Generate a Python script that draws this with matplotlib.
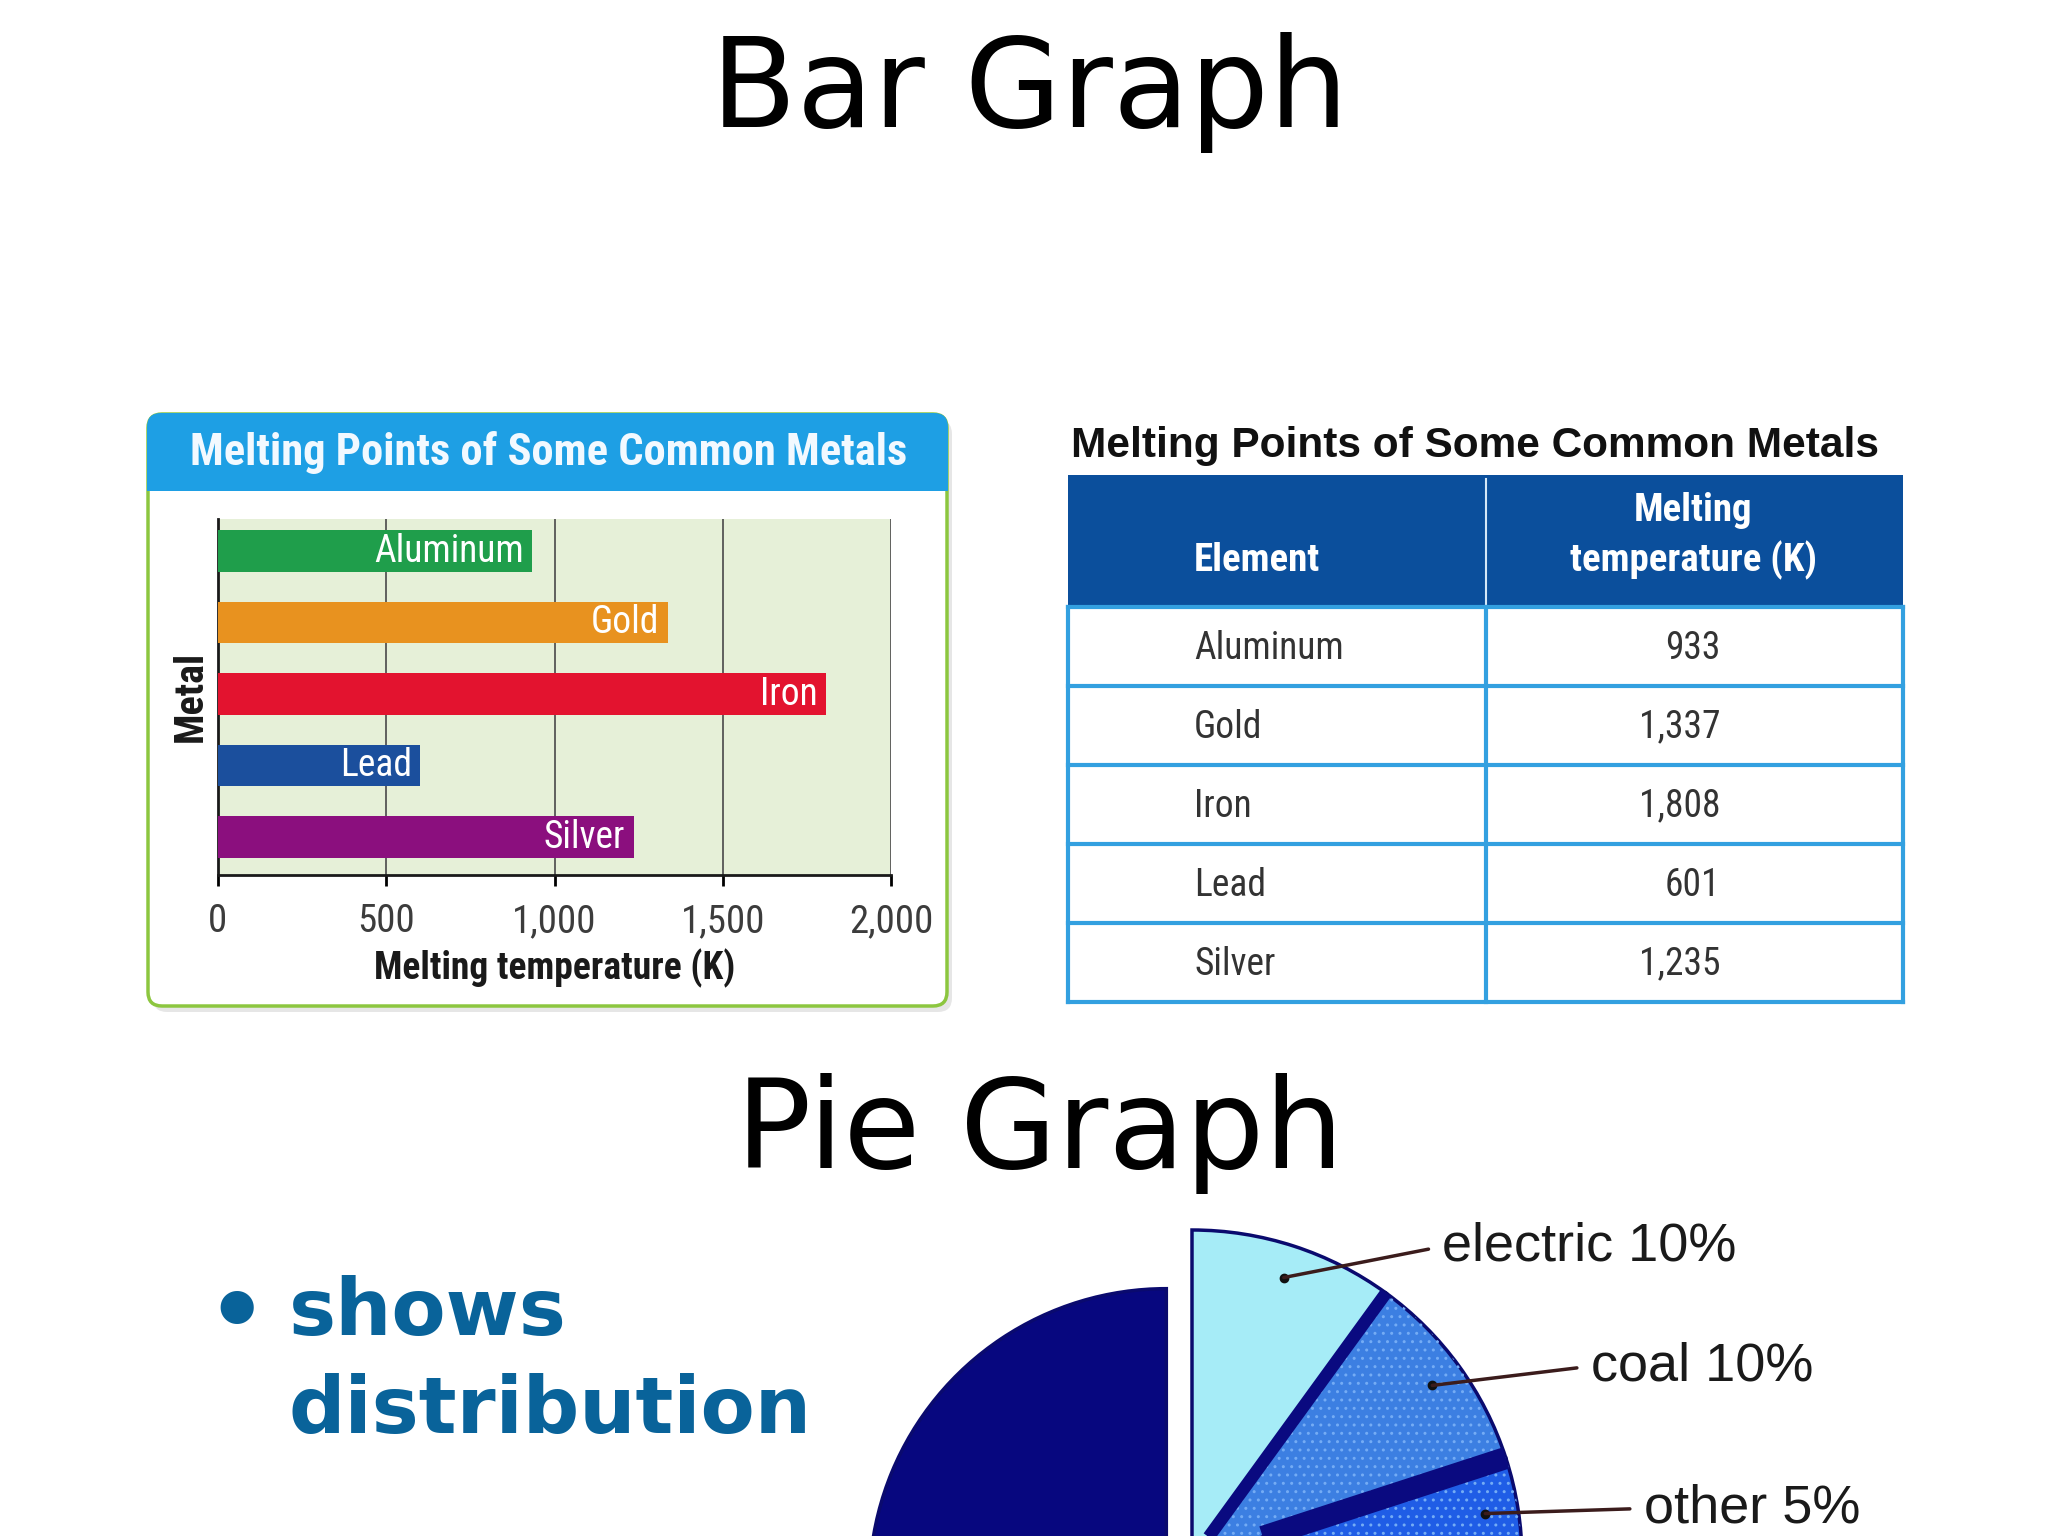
import numpy as np
import matplotlib
matplotlib.use('Agg')
import matplotlib.pyplot as plt
from matplotlib import font_manager as fm
from matplotlib.patches import FancyBboxPatch, Rectangle, Wedge

# values
metals = ['Aluminum', 'Gold', 'Iron', 'Lead', 'Silver']
melting_k = [933, 1337, 1808, 601, 1235]
bar_colors = ['#1f9e4b', '#e8921f', '#e3132f', '#1b4f9d', '#8b0f7e']
x_ticks = [0, 500, 1000, 1500, 2000]

pie_labels = ['electric', 'coal', 'other', '']
pie_share = [10, 10, 5, 75]
pie_colors = ['#a6ecf7', '#3c7fe2', '#1f5de6', '#07077f']

W, H = 2048, 1536

# narrow font for the textbook-style chart, fall back to plain sans
names = {f.name for f in fm.fontManager.ttflist}
NARROW = 'Liberation Sans'
ns = 0.82
for cand in ['Liberation Sans Narrow', 'Roboto Condensed']:
    if cand in names:
        NARROW = cand
        ns = 1.0
        break


def rect(x0, y0, x1, y1):
    # pixel box (top-left origin) -> figure fraction
    return [x0 / W, 1 - y1 / H, (x1 - x0) / W, (y1 - y0) / H]


fig = plt.figure(figsize=(W / 100, H / 100), dpi=100)

# background layer in pixel coords for titles and frames
bg = fig.add_axes([0, 0, 1, 1])
bg.set_xlim(0, W)
bg.set_ylim(H, 0)
bg.axis('off')

bg.text(1030, 127, 'Bar Graph', ha='center', va='baseline', fontsize=90, color='black')
bg.text(1040, 1168, 'Pie Graph', ha='center', va='baseline', fontsize=90, color='black')

# bullet text
blue_txt = '#09639a'
bg.text(206, 1343, '\u2022', fontsize=68, weight='bold', color=blue_txt, va='baseline')
bg.text(289, 1335, 'shows', fontsize=57, weight='bold', color=blue_txt, va='baseline')
bg.text(289, 1433, 'distribution', fontsize=57, weight='bold', color=blue_txt, va='baseline')

# bar chart panel: shadow, white box with green frame, blue header
bg.add_patch(FancyBboxPatch((153, 420), 799, 592, boxstyle='round,pad=0,rounding_size=14',
                            fc='#dcdcdc', ec='none', alpha=0.7))
bg.add_patch(FancyBboxPatch((148, 414), 799, 592, boxstyle='round,pad=0,rounding_size=14',
                            fc='white', ec='#8cc63f', lw=2.5))
bg.add_patch(FancyBboxPatch((147, 413), 801, 78, boxstyle='round,pad=0,rounding_size=14',
                            fc='#1e9fe4', ec='none'))
bg.add_patch(Rectangle((147, 462), 801, 29, fc='#1e9fe4', ec='none'))
bg.text(549, 453, 'Melting Points of Some Common Metals', ha='center', va='center',
        color='#f2f9ff', weight='bold', fontsize=32 * ns, family=NARROW)

# horizontal bar chart
ax = fig.add_axes(rect(218, 518.5, 891, 875))
ax.set_facecolor('#e6f0d8')
ypos = np.arange(len(metals))
ax.barh(ypos, melting_k, height=0.58, color=bar_colors, zorder=3)
for y, name, v in zip(ypos, metals, melting_k):
    ax.text(v - 25, y, name, ha='right', va='center', color='white',
            fontsize=27 * ns, family=NARROW, zorder=4)
ax.set_xlim(0, 2000)
ax.set_ylim(len(metals) - 0.47, -0.457)
ax.set_yticks([])
ax.set_xticks(x_ticks)
ax.set_xticklabels([f'{t:,}' for t in x_ticks], family=NARROW)
ax.xaxis.grid(True, color='#555555', lw=1.3, zorder=1)
ax.set_axisbelow(True)
for s in ['top', 'right']:
    ax.spines[s].set_visible(False)
for s in ['left', 'bottom']:
    ax.spines[s].set_linewidth(2)
    ax.spines[s].set_color('#1a1a1a')
ax.tick_params(axis='x', length=8, width=2, pad=12, labelsize=28 * ns, labelcolor='#3c3c3c')
ax.set_xlabel('Melting temperature (K)', fontsize=27 * ns, weight='bold', family=NARROW,
              color='#1a1a1a', labelpad=6)
ax.set_ylabel('Metal', fontsize=29 * ns, weight='bold', family=NARROW, color='#1a1a1a', labelpad=6)

# table
bg.text(1071, 457, 'Melting Points of Some Common Metals', ha='left', va='baseline',
        weight='bold', fontsize=30.5, family='Liberation Sans', color='#111111')

header_h = 1.67
tab = fig.add_axes(rect(1068, 475, 1903, 1002))
tab.set_xlim(0, 1)
tab.set_ylim(header_h + len(metals), 0)
tab.axis('off')
tab.add_patch(Rectangle((0, 0), 1, header_h, fc='#0b4f9c', ec='none'))
tab.plot([0.5, 0.5], [0.05, header_h], color='#d5e8f7', lw=1.5)
head_kw = dict(color='white', weight='bold', fontsize=28 * ns, family=NARROW, va='center')
tab.text(0.151, 1.08, 'Element', ha='left', **head_kw)
tab.text(0.749, 0.45, 'Melting', ha='center', **head_kw)
tab.text(0.749, 1.08, 'temperature (K)', ha='center', **head_kw)
cell_kw = dict(color='#333333', fontsize=27 * ns, family=NARROW, va='center')
for i, (name, v) in enumerate(zip(metals, melting_k)):
    y0 = header_h + i
    tab.text(0.151, y0 + 0.52, name, ha='left', **cell_kw)
    tab.text(0.781, y0 + 0.52, f'{v:,}', ha='right', **cell_kw)
line_blue = '#33a0e0'
for i in range(len(metals) + 1):
    tab.plot([0, 1], [header_h + i] * 2, color=line_blue, lw=3, clip_on=False)
for xv in [0, 0.5, 1]:
    tab.plot([xv, xv], [header_h, header_h + len(metals)], color=line_blue, lw=3, clip_on=False)

# pie, cut off by the bottom of the slide
pax = fig.add_axes(rect(862, 1230, 1522, 1890))
wedges, _ = pax.pie(pie_share, colors=pie_colors, startangle=90, counterclock=False,
                    explode=[0, 0, 0, 0.11],
                    wedgeprops=dict(edgecolor='#0a0a6e', linewidth=2.5))
wedges[3].set_radius(0.9)
pax.set_aspect('auto')
pax.set_xlim(-1, 1)
pax.set_ylim(-1, 1)
pax.axis('off')

# dotted texture on coal and other
for w in wedges[1:3]:
    pax.add_patch(Wedge(w.center, w.r, w.theta1, w.theta2, fc='none', ec='#74acf5',
                        lw=0, hatch='..'))

# dark separators between the small slices
for w, lw in [(wedges[0], 9), (wedges[1], 16)]:
    a = np.deg2rad(w.theta1)
    pax.plot([0, np.cos(a)], [0, np.sin(a)], color='#0a0a80', lw=lw, solid_capstyle='butt')

for w, lab, share in zip(wedges[:3], pie_labels[:3], pie_share[:3]):
    m = np.deg2rad((w.theta1 + w.theta2) / 2)
    px, py = 0.9 * np.cos(m), 0.9 * np.sin(m)
    pax.plot(px, py, 'o', ms=6, color='#111111', zorder=5)
    pax.annotate(f'{lab} {share}%', xy=(px, py), xytext=(px + 0.48, py * 1.11),
                 ha='left', va='center', fontsize=39, family='Liberation Sans', color='#1a1a1a',
                 arrowprops=dict(arrowstyle='-', color='#3b1c1c', lw=2.5, shrinkA=8, shrinkB=0,
                                 relpos=(0, 0.5)),
                 annotation_clip=False, zorder=5)

fig.savefig('out.png', dpi=100)
